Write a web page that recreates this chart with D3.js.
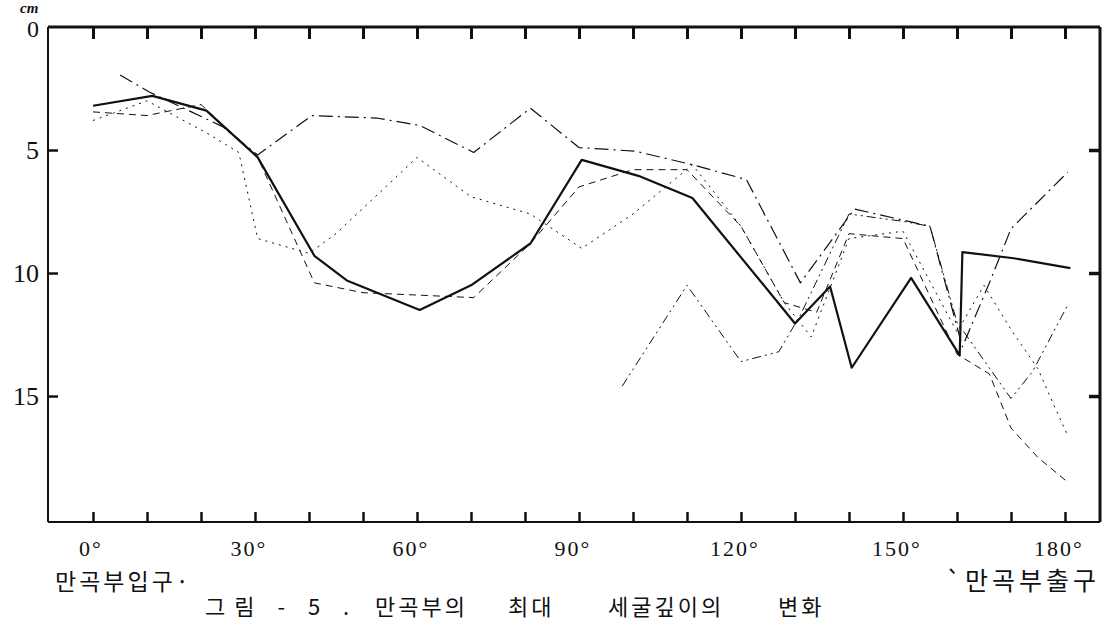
<!DOCTYPE html>
<html>
<head>
<meta charset="utf-8">
<script src="https://cdn.jsdelivr.net/npm/d3@7"></script>
<style>
  body { margin: 0; background: #fff; }
  svg { display: block; }
  .num { font-family: "Liberation Serif", "DejaVu Serif", serif; fill: #111; }
  .kor { font-family: "Noto Sans CJK KR", sans-serif; fill: #111; }
</style>
</head>
<body>
<svg id="chart" width="1114" height="626"></svg>
<script>
// ---- data (angle along bend in degrees, max scour depth in cm) ----
var xTicks = [0, 10, 20, 30, 40, 50, 60, 70, 80, 90, 100, 110, 120, 130, 140, 150, 160, 170, 180];
var xLabels = [0, 30, 60, 90, 120, 150, 180];
var yTicks = [0, 5, 10, 15];
var captionWords = ["그림 - 5 .", "만곡부의", "최대", "세굴깊이의", "변화"];

var run1 = [[0, 3.2], [11, 2.8], [21, 3.4], [30.5, 5.3], [41, 9.3], [47, 10.3], [60.5, 11.5], [70, 10.5], [81, 8.8], [90.5, 5.4], [101, 6.05], [111, 6.95], [130, 12.05], [136.5, 10.55], [140.5, 13.85], [151.5, 10.2], [160.5, 13.35], [161, 9.15], [170.5, 9.4], [181, 9.8]];
var run2 = [[5, 1.95], [10.5, 2.65], [24, 4.05], [30.5, 5.2], [40.5, 3.6], [52.5, 3.7], [60.5, 4.0], [70.5, 5.1], [81, 3.3], [90, 4.9], [100.5, 5.05], [111, 5.6], [121, 6.2], [131, 10.4], [141, 7.4], [155, 8.1], [161, 13.0], [166, 10.4], [170, 8.2], [180.5, 5.9]];
var run3 = [[0, 3.45], [10, 3.6], [20, 3.15], [30.5, 5.3], [41, 10.4], [50, 10.8], [60.5, 10.9], [70.5, 11.0], [81, 8.8], [90, 6.5], [100, 5.8], [110, 5.8], [120, 8.1], [128, 11.2], [134, 11.6], [140, 8.4], [150, 8.6], [160, 13.3], [166, 14.1], [170, 16.3], [175, 17.5], [180.5, 18.5]];
var run4 = [[0, 3.8], [10, 3.0], [21, 4.3], [27, 5.1], [30.5, 8.6], [40, 9.2], [45, 8.4], [60, 5.3], [70, 6.9], [81, 7.6], [90.5, 9.0], [100, 7.6], [111, 5.6], [120, 8.1], [128, 11.2], [133, 12.6], [140, 8.6], [150, 8.3], [160, 12.4], [165, 10.5], [170, 12.3], [175, 13.9], [178, 15.4], [180.5, 16.6]];
var run5 = [[98, 14.6], [110, 10.5], [120, 13.6], [127, 13.2], [131, 11.7], [140, 7.6], [150, 7.9], [155, 8.1], [160, 12.0], [170, 15.1], [174, 14.0], [180.5, 11.3]];

var runs = [
  { pts: run1, width: 2.2, dash: null },
  { pts: run2, width: 1.2, dash: "14,5,2,5" },
  { pts: run3, width: 1, dash: "7,5" },
  { pts: run4, width: 1, dash: "2,5" },
  { pts: run5, width: 1, dash: "9,4,2,4,2,4" }
];

var svg = d3.select("#chart");

/// SCALES ///
var frame = { left: 48, right: 1100, top: 27, bottom: 522 };
var x = d3.scaleLinear().domain([0, 180]).range([93, 1065]);
var y = d3.scaleLinear().domain([0, 20.12]).range([frame.top, frame.bottom]);

// frame
svg.append("line").attr("x1", frame.left).attr("x2", frame.right).attr("y1", frame.top).attr("y2", frame.top)
  .attr("stroke", "#111").attr("stroke-width", 3);
svg.append("line").attr("x1", frame.right).attr("x2", frame.right).attr("y1", frame.top).attr("y2", frame.bottom)
  .attr("stroke", "#111").attr("stroke-width", 3);
svg.append("line").attr("x1", frame.left).attr("x2", frame.left).attr("y1", frame.top).attr("y2", frame.bottom)
  .attr("stroke", "#111").attr("stroke-width", 2);
svg.append("line").attr("x1", frame.left).attr("x2", frame.right).attr("y1", frame.bottom).attr("y2", frame.bottom)
  .attr("stroke", "#111").attr("stroke-width", 2);

/// AXES (ticks point inward) ///
function styleAxis(g, w) {
  g.select(".domain").remove();
  g.selectAll(".tick line").attr("stroke", "#111").attr("stroke-width", w);
  g.selectAll(".tick text").remove();
}

svg.append("g")
  .attr("transform", "translate(0," + frame.top + ")")
  .call(d3.axisTop(x).tickValues(xTicks).tickSize(-12))
  .call(styleAxis, 3);

svg.append("g")
  .attr("transform", "translate(0," + frame.bottom + ")")
  .call(d3.axisBottom(x).tickValues(xTicks).tickSize(-10))
  .call(styleAxis, 2.5);

svg.append("g")
  .attr("transform", "translate(" + frame.left + ",0)")
  .call(d3.axisLeft(y).tickValues(yTicks.slice(1)).tickSize(-10))
  .call(styleAxis, 2.5);

svg.append("g")
  .attr("transform", "translate(" + frame.right + ",0)")
  .call(d3.axisRight(y).tickValues(yTicks.slice(1)).tickSize(-11))
  .call(styleAxis, 3.5);

// y labels
svg.selectAll(".ylab")
  .data(yTicks)
  .enter()
  .append("text")
  .attr("class", "num")
  .attr("x", 39)
  .attr("y", function (d) { return d == 0 ? 37 : y(d) + 9; })
  .attr("text-anchor", "end")
  .style("font-size", function (d) { return d == 0 ? "24px" : "26px"; })
  .text(function (d) { return d; });

svg.append("text")
  .attr("class", "num")
  .attr("x", 20).attr("y", 12.5)
  .style("font-size", "15px").style("font-style", "italic").style("font-weight", "bold")
  .text("cm");

// x labels
svg.selectAll(".xlab")
  .data(xLabels)
  .enter()
  .append("text")
  .attr("class", "num")
  .attr("x", function (d) { return d == 0 ? x(d) - 2 : x(d) - 6; })
  .attr("y", 556)
  .attr("text-anchor", "middle")
  .style("font-size", "22px")
  .style("letter-spacing", "2px")
  .text(function (d) { return d + "°"; });

svg.append("text").attr("class", "kor")
  .attr("x", 55).attr("y", 590)
  .style("font-size", "23px").style("letter-spacing", "3px")
  .text("만곡부입구·");

svg.append("text").attr("class", "kor")
  .attr("x", 1100).attr("y", 590)
  .attr("text-anchor", "end")
  .style("font-size", "25px").style("letter-spacing", "4px")
  .text("`만곡부출구");

// caption words spread like the printed figure title
var captionX = [205, 375, 508, 608, 778];
var captionGap = [9, 3, 3, 3, 3];
svg.selectAll(".cap")
  .data(captionWords)
  .enter()
  .append("text")
  .attr("class", "kor")
  .attr("x", function (d, i) { return captionX[i]; })
  .attr("y", 615)
  .style("font-size", "22px")
  .style("letter-spacing", function (d, i) { return captionGap[i] + "px"; })
  .text(function (d) { return d; });

/// LINES ///
var line = d3.line()
  .x(function (d) { return x(d[0]); })
  .y(function (d) { return y(d[1]); });

svg.append("g")
  .selectAll("path")
  .data(runs)
  .enter()
  .append("path")
  .attr("d", function (d) { return line(d.pts); })
  .attr("fill", "none")
  .attr("stroke", "#111")
  .attr("stroke-width", function (d) { return d.width; })
  .attr("stroke-dasharray", function (d) { return d.dash; })
  .attr("stroke-linejoin", "round");
</script>
</body>
</html>
